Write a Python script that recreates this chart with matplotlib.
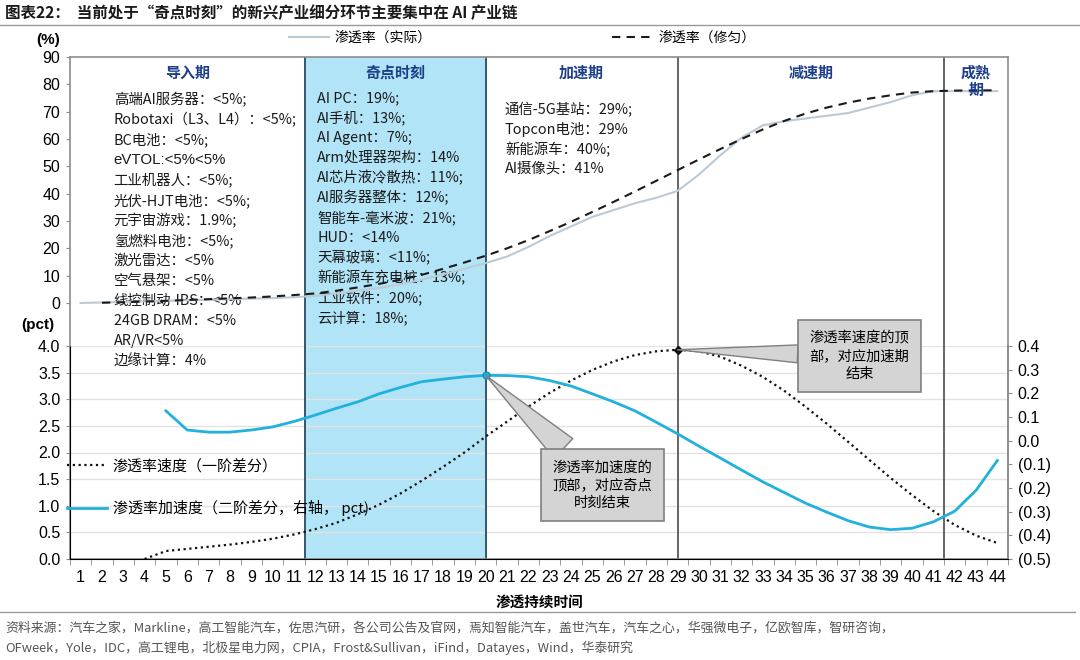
import matplotlib
matplotlib.use("Agg")
import matplotlib.pyplot as plt
import matplotlib.transforms as mtransforms
from matplotlib.lines import Line2D
from matplotlib.ticker import FixedLocator, FuncFormatter
import numpy as np

plt.rcParams['font.family'] = ['Noto Sans CJK SC', 'DejaVu Sans']
NUM_FONT = ['Liberation Sans', 'DejaVu Sans']

# ---- data ----
periods = list(range(1, 45))
rate_actual = [0, 0.2, 0.4, 0.6, 0.8, 1.0, 1.2, 1.4, 1.6, 1.8, 2.1, 2.6, 3.5, 4.5, 5.5,
               6.8, 8.5, 10.5, 12.5, 14.6, 17.0, 20.5, 24.5, 28.0, 31.5, 34.0, 36.5, 38.5,
               41.0, 47.0, 54.0, 60.5, 65.0, 66.5, 67.5, 68.5, 69.5, 71.5, 73.5, 76.0,
               77.5, 77.5, 77.5, 77.5]
smooth_x = list(range(2, 45))
rate_smooth = [0.1, 0.3, 0.5, 0.8, 1.1, 1.4, 1.7, 2.0, 2.4, 2.9, 3.5, 4.5, 5.7, 7.0,
               8.5, 10.3, 12.5, 14.8, 17.3, 20.0, 23.0, 26.3, 29.7, 33.3, 37.0, 40.8,
               44.7, 48.6, 52.5, 56.3, 60.0, 63.5, 66.6, 69.3, 71.5, 73.3, 74.8, 76.0,
               77.0, 77.5, 77.7, 77.8, 77.8]
velocity_x = list(range(4, 45))
velocity = [0.0, 0.15, 0.19, 0.23, 0.27, 0.32, 0.38, 0.46, 0.56, 0.68, 0.84, 1.02, 1.23,
            1.47, 1.73, 2.0, 2.3, 2.58, 2.86, 3.12, 3.35, 3.55, 3.71, 3.83, 3.9, 3.93,
            3.9, 3.8, 3.63, 3.42, 3.16, 2.86, 2.54, 2.2, 1.86, 1.52, 1.2, 0.9, 0.64,
            0.44, 0.3]
accel_x = list(range(5, 45))
accel = [0.126, 0.045, 0.036, 0.036, 0.045, 0.058, 0.081, 0.108, 0.137, 0.164, 0.198,
         0.225, 0.249, 0.26, 0.27, 0.276, 0.275, 0.27, 0.254, 0.231, 0.198, 0.164,
         0.126, 0.078, 0.029, -0.023, -0.073, -0.124, -0.174, -0.219, -0.264, -0.302,
         -0.338, -0.365, -0.376, -0.37, -0.343, -0.298, -0.21, -0.084]

phase_edges = [0.5, 11.5, 20, 29, 41.5, 44.5]
phase_names = ["导入期", "奇点时刻", "加速期", "减速期", "成熟\n期"]

intro_items = ["高端AI服务器：<5%;", "Robotaxi（L3、L4）：<5%;", "BC电池：<5%;",
               "eVTOL:<5%<5%", "工业机器人：<5%;", "光伏-HJT电池：<5%;",
               "元宇宙游戏：1.9%;", "氢燃料电池：<5%;", "激光雷达：<5%", "空气悬架：<5%",
               "线控制动-IBS：<5%", "24GB DRAM：<5%", "AR/VR<5%", "边缘计算：4%"]
singular_items = ["AI PC：19%;", "AI手机：13%;", "AI Agent：7%;", "Arm处理器架构：14%",
                  "AI芯片液冷散热：11%;", "AI服务器整体：12%;", "智能车-毫米波：21%;",
                  "HUD：<14%", "天幕玻璃：<11%;", "新能源车充电桩：13%;", "工业软件：20%;",
                  "云计算：18%;"]
accel_items = ["通信-5G基站：29%;", "Topcon电池：29%", "新能源车：40%;", "AI摄像头：41%"]

right_ticks = [0.4, 0.3, 0.2, 0.1, 0.0, -0.1, -0.2, -0.3, -0.4, -0.5]

title = "图表22：  当前处于“奇点时刻”的新兴产业细分环节主要集中在 AI 产业链"
source_lines = ["资料来源：汽车之家，Markline，高工智能汽车，佐思汽研，各公司公告及官网，焉知智能汽车，盖世汽车，汽车之心，华强微电子，亿欧智库，智研咨询，",
                "OFweek，Yole，IDC，高工锂电，北极星电力网，CPIA，Frost&Sullivan，iFind，Datayes，Wind，华泰研究"]

# ---- style ----
W, H = 1080, 660
C_ACTUAL = "#bccad6"
C_CYAN = "#21b1dc"
C_BLUE = "#b2e4f7"
C_BLUE_EDGE = "#35576a"
C_FRAME = "#8c8c8c"
C_HEAD = "#1d3f8a"


def fy(py):
    return 1 - py / H


def fx(px):
    return px / W


fig = plt.figure(figsize=(W / 100, H / 100), dpi=100)
ax_top = fig.add_axes([fx(70), fy(346), fx(1008) - fx(70), fy(57) - fy(346)])
ax_bot = fig.add_axes([fx(70), fy(559), fx(1008) - fx(70), fy(346) - fy(559)])
ax_r = ax_bot.twinx()
ax_top.set_zorder(5)
ax_top.patch.set_visible(False)

for ax in (ax_top, ax_bot):
    ax.set_xlim(0.5, 44.5)
    ax.axvspan(phase_edges[1], phase_edges[2], color=C_BLUE, zorder=0, lw=0)
    ax.axvline(phase_edges[1], color=C_BLUE_EDGE, lw=1.4, zorder=1)
    ax.axvline(phase_edges[2], color=C_BLUE_EDGE, lw=1.4, zorder=1)
    ax.axvline(phase_edges[3], color="#3a3a3a", lw=1.1, zorder=1)
    ax.axvline(phase_edges[4], color="#3a3a3a", lw=1.1, zorder=1)

# ---- top panel ----
top_span = fy(57) - fy(303)
ax_top.set_ylim(-90 * (fy(303) - fy(346)) / top_span, 90)
ax_top.spines['bottom'].set_visible(False)
for s in ('left', 'top', 'right'):
    ax_top.spines[s].set_color(C_FRAME)
    ax_top.spines[s].set_linewidth(1.2)
ax_top.set_yticks(range(0, 91, 10))
ax_top.tick_params(axis='y', length=3, color=C_FRAME, labelsize=11.5, pad=4)
ax_top.tick_params(axis='x', bottom=False, labelbottom=False)
for lab in ax_top.get_yticklabels():
    lab.set_family(NUM_FONT)

l_act, = ax_top.plot(periods, rate_actual, color=C_ACTUAL, lw=1.5, zorder=3, label="渗透率（实际）")
l_smo, = ax_top.plot(smooth_x, rate_smooth, color="#1a1a1a", lw=1.5, ls=(0, (4, 3)), zorder=4,
                     label="渗透率（修匀）")

# phase headings
for i, name in enumerate(phase_names):
    cx = (phase_edges[i] + phase_edges[i + 1]) / 2
    ax_top.text(cx, 87.3, name, ha='center', va='top', fontsize=10.8, fontweight='bold',
                color=C_HEAD, linespacing=1.15, zorder=6)

tr = mtransforms.blended_transform_factory(ax_top.transData, fig.transFigure)
item_kw = dict(transform=tr, fontsize=10.4, va='center', ha='left', color="#1a1a1a", zorder=2)
for i, t in enumerate(intro_items):
    kw = dict(item_kw)
    if t.startswith("eVTOL"):
        kw.update(family=NUM_FONT, fontsize=10.8)
    ax_top.text(2.55, fy(100 + i * 20.1), t, **kw)
for i, t in enumerate(singular_items):
    ax_top.text(12.1, fy(98 + i * 20.0), t, **item_kw)
for i, t in enumerate(accel_items):
    ax_top.text(20.9, fy(110 + i * 19.6), t, **item_kw)

# ---- bottom panel ----
ax_bot.set_ylim(0, 4)
ax_bot.yaxis.set_major_locator(FixedLocator(np.arange(0, 4.01, 0.5)))
ax_bot.yaxis.set_major_formatter(FuncFormatter(lambda v, p: f"{v:.1f}"))
ax_bot.grid(axis='y', color="#e3e3e3", lw=1.0, zorder=0)
ax_bot.set_axisbelow(True)
ax_bot.spines['top'].set_visible(False)
for s in ('left', 'bottom', 'right'):
    ax_bot.spines[s].set_color(C_FRAME)
    ax_bot.spines[s].set_linewidth(1.2)
ax_bot.set_xticks(periods)
ax_bot.set_xticks(np.arange(0.5, 44.6, 1), minor=True)
ax_bot.tick_params(axis='x', which='major', length=0, labelsize=11.5, pad=8)
ax_bot.tick_params(axis='x', which='minor', length=4, color=C_FRAME)
ax_bot.tick_params(axis='y', length=3, color=C_FRAME, labelsize=11.5, pad=4)
for lab in ax_bot.get_xticklabels() + ax_bot.get_yticklabels():
    lab.set_family(NUM_FONT)
ax_bot.set_xlabel("渗透持续时间", fontsize=10.5, fontweight='bold', labelpad=6)

ax_r.set_ylim(-0.5, 0.4)
ax_r.spines['top'].set_visible(False)
ax_r.spines['right'].set_color(C_FRAME)
ax_r.spines['right'].set_linewidth(1.2)
ax_r.yaxis.set_major_locator(FixedLocator(right_ticks))
ax_r.yaxis.set_major_formatter(FuncFormatter(
    lambda v, p: f"({abs(v):.1f})" if v < -1e-9 else f"{abs(v):.1f}"))
ax_r.tick_params(axis='y', length=3, color=C_FRAME, labelsize=11.5, pad=4)
for lab in ax_r.get_yticklabels():
    lab.set_family(NUM_FONT)

l_vel, = ax_bot.plot(velocity_x, velocity, color="#111111", lw=1.6, ls=(0, (1, 1.6)),
                     zorder=4, label="渗透率速度（一阶差分）")
l_acc, = ax_r.plot(accel_x, accel, color=C_CYAN, lw=2.0, zorder=4,
                   label="渗透率加速度（二阶差分，右轴， pct)")

# peaks + callouts
iv = int(np.argmax(velocity))
ia = int(np.argmax(accel))
ax_bot.plot(velocity_x[iv], velocity[iv], marker='D', ms=4.5, color="#111111", zorder=6)
ax_r.plot(accel_x[ia], accel[ia], marker='o', ms=5, color=C_CYAN, mec="#1a8fb8", zorder=6)

box = dict(boxstyle="square,pad=0.8", fc="#d4d4d4", ec="#7f7f7f", lw=1.2)
ax_bot.annotate("渗透率速度的顶\n部，对应加速期\n结束", xy=(velocity_x[iv], velocity[iv]),
                xytext=(131, -4.5), textcoords='offset points', ha='center', va='center',
                fontsize=10.3, linespacing=1.32, bbox=box, zorder=7,
                arrowprops=dict(arrowstyle="wedge,tail_width=1.25,shrink_factor=0.5",
                                fc="#d4d4d4", ec="#7f7f7f", lw=1.0, shrinkA=0, shrinkB=0))
ax_r.annotate("渗透率加速度的\n顶部，对应奇点\n时刻结束", xy=(accel_x[ia], accel[ia]),
              xytext=(84, -79), textcoords='offset points', ha='center', va='center',
              fontsize=10.3, linespacing=1.32, bbox=box, zorder=7,
              arrowprops=dict(arrowstyle="wedge,tail_width=1.9,shrink_factor=0.5",
                              fc="#d4d4d4", ec="#7f7f7f", lw=1.0, shrinkA=0, shrinkB=0))

# legends
fig.legend(handles=[l_act, l_smo], ncol=2, loc='center', bbox_to_anchor=(fx(522), fy(38)),
           frameon=False, fontsize=10, handlelength=2.9, handletextpad=0.4,
           columnspacing=13.0, borderpad=0)
fig.legend(handles=[l_vel, l_acc], ncol=1, loc='center left',
           bbox_to_anchor=(fx(67), fy(487.5)), frameon=False, fontsize=10.8,
           handlelength=2.65, handletextpad=0.4, labelspacing=1.75, borderpad=0,
           borderaxespad=0)

# axis unit labels
fig.text(fx(48), fy(40), "(%)", fontsize=11, fontweight='bold', ha='center', va='center',
         family=NUM_FONT)
fig.text(fx(38), fy(325), "(pct)", fontsize=11, fontweight='bold', ha='center', va='center',
         family=NUM_FONT)

# title, rules, source
fig.text(fx(5), fy(13), title, fontsize=11.2, fontweight='bold', ha='left', va='center',
         color="#1a1a1a")
fig.add_artist(Line2D([0, 1], [fy(25), fy(25)], color="#9a9a9a", lw=1.0))
fig.add_artist(Line2D([0, fx(1075)], [fy(612), fy(612)], color="#9a9a9a", lw=1.0))
for i, line in enumerate(source_lines):
    fig.text(fx(5), fy(628 + i * 20), line, fontsize=9.3, ha='left', va='center',
             color="#555555")

fig.savefig("out.png", dpi=100)
